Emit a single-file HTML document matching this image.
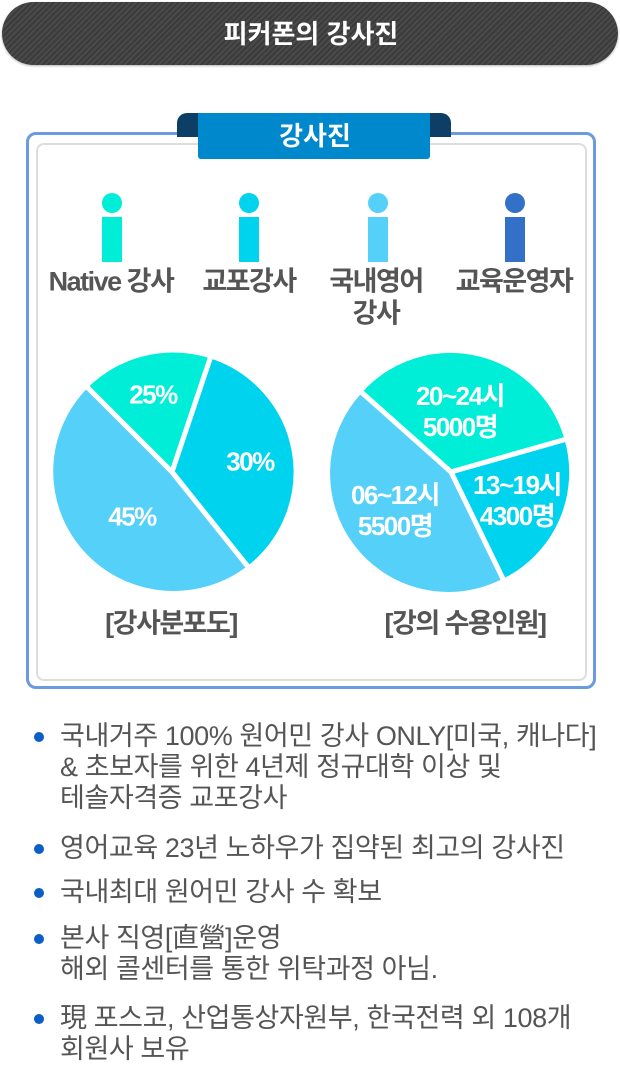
<!DOCTYPE html>
<html><head><meta charset="utf-8"><style>
*{margin:0;padding:0;box-sizing:border-box}
body{width:620px;height:1069px;background:#fff;position:relative;overflow:hidden;font-family:"Liberation Sans","Noto Sans CJK KR",sans-serif}
.a{position:absolute;white-space:nowrap}
.c{transform:translate(-50%,-50%);line-height:1}
.pill{left:2px;top:2px;width:616px;height:63px;border-radius:32px;background:repeating-linear-gradient(135deg,#3b3b3b 0 2px,#4a4a4a 2px 4px);box-shadow:0 1px 2px rgba(0,0,0,.3)}
.lbl{font-weight:bold;color:#555;font-size:27px;letter-spacing:-1.5px}
.pl{font-weight:bold;color:#fff;font-size:26px;letter-spacing:-1.5px;text-align:center;line-height:31px}
.bl{left:60px;font-size:27px;color:#555;line-height:31px;letter-spacing:-0.4px}
.dot{width:10px;height:10px;border-radius:50%;background:#0a5ec4;left:34px}
</style></head><body>
<div class="a pill"></div>
<div class="a c" style="left:311px;top:34px;color:#fff;font-size:26px;font-weight:bold">피커폰의 강사진</div>

<div class="a" style="left:26px;top:132px;width:570px;height:557px;border:3px solid #6b9ae0;border-radius:10px"></div>
<div class="a" style="left:36px;top:143px;width:551px;height:538px;border:2px solid #ddd;border-radius:8px;background:#fff"></div>
<div class="a" style="left:177px;top:113px;width:30px;height:24px;background:#0d3f66;border-radius:10px 0 0 0"></div>
<div class="a" style="left:421px;top:113px;width:30px;height:24px;background:#0d3f66;border-radius:0 10px 0 0"></div>
<div class="a" style="left:198px;top:113px;width:232px;height:46px;background:#0088cc;border-radius:0 0 3px 3px"></div>
<div class="a c" style="left:315px;top:136px;color:#fff;font-size:26px;font-weight:bold">강사진</div>

<div class="a" style="left:102px;top:193px;width:20px;height:20px;border-radius:50%;background:#00eed8"></div>
<div class="a" style="left:102px;top:217px;width:20px;height:45px;background:#00eed8"></div>
<div class="a" style="left:239px;top:193px;width:20px;height:20px;border-radius:50%;background:#00d3ee"></div>
<div class="a" style="left:239px;top:217px;width:20px;height:45px;background:#00d3ee"></div>
<div class="a" style="left:368px;top:193px;width:20px;height:20px;border-radius:50%;background:#55d0f8"></div>
<div class="a" style="left:368px;top:217px;width:20px;height:45px;background:#55d0f8"></div>
<div class="a" style="left:505px;top:193px;width:20px;height:20px;border-radius:50%;background:#3370c8"></div>
<div class="a" style="left:505px;top:217px;width:20px;height:45px;background:#3370c8"></div>
<div class="a c lbl" style="left:111px;top:282px">Native 강사</div>
<div class="a c lbl" style="left:249px;top:282px">교포강사</div>
<div class="a c lbl" style="left:376px;top:282px">국내영어</div>
<div class="a c lbl" style="left:376px;top:314px">강사</div>
<div class="a c lbl" style="left:514px;top:282px">교육운영자</div>

<svg class="a" style="left:0;top:0" width="620" height="700">
<g stroke="#fff" stroke-width="5" stroke-linejoin="round">
<path d="M172 472 L86 386 A123 122 0 0 1 211 356 Z" fill="#00eed8"/>
<path d="M172 472 L211 356 A123 122 0 0 1 249 568 Z" fill="#00d3ee"/>
<path d="M172 472 L249 568 A123 122 0 0 1 86 386 Z" fill="#55d0f8"/>
<path d="M451 472 L360 391 A121 121 0 0 1 567 439 Z" fill="#00eed8"/>
<path d="M451 472 L567 439 A121 121 0 0 1 504 581 Z" fill="#00d3ee"/>
<path d="M451 472 L504 581 A121 121 0 0 1 360 391 Z" fill="#55d0f8"/>
</g></svg>
<div class="a c pl" style="left:153px;top:395px">25%</div>
<div class="a c pl" style="left:250px;top:462px">30%</div>
<div class="a c pl" style="left:132px;top:517px">45%</div>
<div class="a c pl" style="left:460px;top:412px">20~24시<br>5000명</div>
<div class="a c pl" style="left:517px;top:501px">13~19시<br>4300명</div>
<div class="a c pl" style="left:395px;top:511px">06~12시<br>5500명</div>
<div class="a c lbl" style="left:171px;top:624px">[강사분포도]</div>
<div class="a c lbl" style="left:465px;top:624px">[강의 수용인원]</div>

<div class="a dot" style="top:732px"></div>
<div class="a bl" style="top:721px">국내거주 100% 원어민 강사 ONLY[미국, 캐나다]<br>&amp; 초보자를 위한 4년제 정규대학 이상 및<br>테솔자격증 교포강사</div>
<div class="a dot" style="top:844px"></div>
<div class="a bl" style="top:833px">영어교육 23년 노하우가 집약된 최고의 강사진</div>
<div class="a dot" style="top:888px"></div>
<div class="a bl" style="top:877px">국내최대 원어민 강사 수 확보</div>
<div class="a dot" style="top:934px"></div>
<div class="a bl" style="top:923px">본사 직영[直營]운영<br>해외 콜센터를 통한 위탁과정 아님.</div>
<div class="a dot" style="top:1014px"></div>
<div class="a bl" style="top:1003px">現 포스코, 산업통상자원부, 한국전력 외 108개<br>회원사 보유</div>
</body></html>
